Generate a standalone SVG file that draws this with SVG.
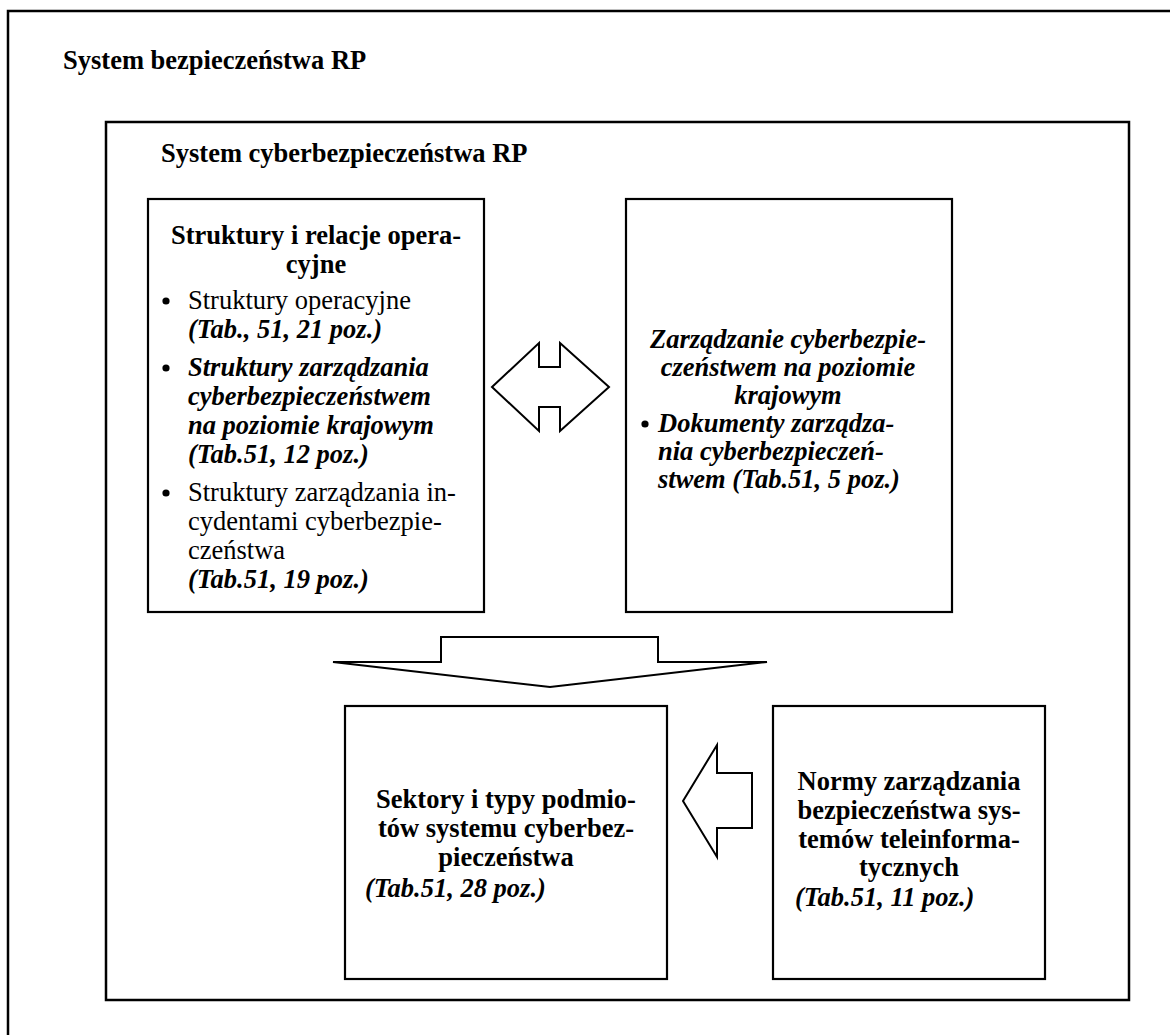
<svg xmlns="http://www.w3.org/2000/svg" width="1170" height="1035" viewBox="0 0 1170 1035">
<style>
.frame{fill:none;stroke:#000;stroke-width:2.5}
.box{fill:#fff;stroke:#000;stroke-width:2.2}
.arr{fill:#fff;stroke:#000;stroke-width:2;stroke-linejoin:miter}
text{font-family:"Liberation Serif","Times New Roman",serif;font-size:26.5px;fill:#000}
.b{font-weight:bold}
.bi{font-weight:bold;font-style:italic}
.c{text-anchor:middle}
.dot{fill:#000}
</style>
<rect width="1170" height="1035" fill="#fff"/>
<g id="outer">
<path class="frame" d="M1180 11 H8 V1045"/>
<text class="b" x="63" y="69">System bezpieczeństwa RP</text>
</g>
<g id="inner">
<rect class="frame" x="106" y="122" width="1023" height="878"/>
<text class="b" x="161" y="162">System cyberbezpieczeństwa RP</text>
</g>
<g id="struktury">
<rect class="box" x="148" y="199" width="336" height="413"/>
<text class="b c" x="316" y="244">Struktury i relacje opera-</text>
<text class="b c" x="316" y="273">cyjne</text>
<circle class="dot" cx="166" cy="301" r="3.6"/>
<text x="188" y="309">Struktury operacyjne</text>
<text class="bi" x="188" y="338">(Tab., 51, 21 poz.)</text>
<circle class="dot" cx="166" cy="368" r="3.6"/>
<text class="bi" x="188" y="376">Struktury zarządzania</text>
<text class="bi" x="188" y="405">cyberbezpieczeństwem</text>
<text class="bi" x="188" y="434">na poziomie krajowym</text>
<text class="bi" x="188" y="463">(Tab.51, 12 poz.)</text>
<circle class="dot" cx="166" cy="493" r="3.6"/>
<text x="188" y="501">Struktury zarządzania in-</text>
<text x="188" y="530">cydentami cyberbezpie-</text>
<text x="188" y="559">czeństwa</text>
<text class="bi" x="188" y="588">(Tab.51, 19 poz.)</text>
</g>
<g id="zarzadzanie">
<rect class="box" x="626" y="199" width="326" height="413"/>
<text class="bi c" x="788" y="348">Zarządzanie cyberbezpie-</text>
<text class="bi c" x="788" y="376">czeństwem na poziomie</text>
<text class="bi c" x="788" y="404">krajowym</text>
<circle class="dot" cx="645" cy="424" r="3.6"/>
<text class="bi" x="658" y="432">Dokumenty zarządza-</text>
<text class="bi" x="658" y="460">nia cyberbezpieczeń-</text>
<text class="bi" x="658" y="488">stwem (Tab.51, 5 poz.)</text>
</g>
<g id="sektory">
<rect class="box" x="345" y="706" width="322" height="273"/>
<text class="b c" x="506" y="808">Sektory i typy podmio-</text>
<text class="b c" x="506" y="837">tów systemu cyberbez-</text>
<text class="b c" x="506" y="866">pieczeństwa</text>
<text class="bi" x="365" y="897">(Tab.51, 28 poz.)</text>
</g>
<g id="normy">
<rect class="box" x="773" y="706" width="272" height="273"/>
<text class="b c" x="909" y="790">Normy zarządzania</text>
<text class="b c" x="909" y="819">bezpieczeństwa sys-</text>
<text class="b c" x="909" y="848">temów teleinforma-</text>
<text class="b c" x="909" y="876">tycznych</text>
<text class="bi" x="795" y="906">(Tab.51, 11 poz.)</text>
</g>
<g id="connectors">
<path class="arr" d="M492 387 L539 343 V367 H560 V343 L609 387 L560 431 V407 H539 V431 Z"/>
<path class="arr" d="M441 637 H658 V662 H767 L550 687 L333 662 H441 Z"/>
<path class="arr" d="M683 801 L717 745 V773 H752 V828 H717 V857 Z"/>
</g>
</svg>
